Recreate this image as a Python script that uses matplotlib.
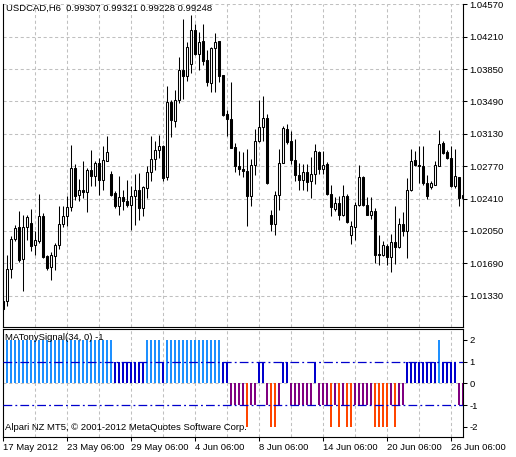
import numpy as np
import matplotlib.pyplot as plt

plt.rcParams['font.family'] = ['Liberation Sans', 'DejaVu Sans']
plt.rcParams['font.size'] = 6.8

# USDCAD H6 candles
opens = [1.01269, 1.01269, 1.01632, 1.01962, 1.02095, 1.01740, 1.02095, 1.02143, 1.01895, 1.01935,
         1.02220, 1.01769, 1.01651, 1.01776, 1.01891, 1.02132, 1.02213, 1.02317, 1.02750, 1.02446,
         1.02509, 1.02479, 1.02731, 1.02657, 1.02805, 1.02612, 1.02823, 1.02687, 1.02472, 1.02324,
         1.02428, 1.02384, 1.02343, 1.02435, 1.02509, 1.02306, 1.02528, 1.02701, 1.02853, 1.02953,
         1.02990, 1.02646, 1.03489, 1.03275, 1.03508, 1.03841, 1.03767, 1.03904, 1.04285, 1.04015,
         1.04163, 1.03952, 1.03700, 1.04082, 1.04163, 1.03786, 1.03353, 1.03294, 1.02983, 1.02775,
         1.02742, 1.02720, 1.02435, 1.02787, 1.03045, 1.03201, 1.03305, 1.02232, 1.02128, 1.02446,
         1.02805, 1.03183, 1.03045, 1.02842, 1.02676, 1.02612, 1.02706, 1.02601, 1.02687, 1.02928,
         1.02739, 1.02794, 1.02461, 1.02298, 1.02361, 1.02224, 1.02442, 1.02010, 1.02091, 1.02343,
         1.02646, 1.02343, 1.02232, 1.02268, 1.01799, 1.01788, 1.01887, 1.01762, 1.01929, 1.01873,
         1.02128, 1.02046, 1.02501, 1.02842, 1.02787, 1.02775, 1.02583, 1.02535, 1.02565, 1.02775,
         1.03027, 1.02923, 1.02861, 1.02546, 1.02650, 1.02417]
highs = [1.01310, 1.01788, 1.01991, 1.02121, 1.02276, 1.02232, 1.02232, 1.02295, 1.02054, 1.02461,
         1.02250, 1.01788, 1.01813, 1.01917, 1.02331, 1.02324, 1.02435, 1.03009, 1.02798, 1.02631,
         1.02823, 1.02750, 1.02953, 1.02831, 1.02861, 1.02997, 1.03108, 1.02720, 1.02498, 1.02664,
         1.02501, 1.02620, 1.02546, 1.02687, 1.02694, 1.02546, 1.02775, 1.03108, 1.03045, 1.03120,
         1.03009, 1.03656, 1.03508, 1.03619, 1.03982, 1.04407, 1.04149, 1.04451, 1.04352, 1.04260,
         1.04348, 1.04063, 1.04100, 1.04248, 1.04163, 1.03786, 1.03397, 1.03711, 1.03027, 1.02934,
         1.02928, 1.02961, 1.02853, 1.03183, 1.03508, 1.03545, 1.03353, 1.02287, 1.02498, 1.02964,
         1.03212, 1.03242, 1.03164, 1.03075, 1.02805, 1.02794, 1.02794, 1.02872, 1.03016, 1.02942,
         1.02934, 1.02817, 1.02565, 1.02424, 1.02435, 1.02565, 1.02461, 1.02157, 1.02373, 1.02787,
         1.02664, 1.02428, 1.02428, 1.02306, 1.02010, 1.01935, 1.01906, 1.02021, 1.02324, 1.02195,
         1.02257, 1.02639, 1.02961, 1.02934, 1.02990, 1.02990, 1.02676, 1.02601, 1.02823, 1.03175,
         1.03045, 1.02945, 1.02990, 1.02961, 1.02650, 1.02490]
lows = [1.01155, 1.01214, 1.01532, 1.01935, 1.01702, 1.01380, 1.01954, 1.01824, 1.01788, 1.01917,
        1.01751, 1.01621, 1.01510, 1.01621, 1.01851, 1.02095, 1.02109, 1.02268, 1.02398, 1.02379,
        1.02417, 1.02257, 1.02546, 1.02553, 1.02454, 1.02501, 1.02823, 1.02435, 1.02306, 1.02224,
        1.02279, 1.02317, 1.02065, 1.02113, 1.02168, 1.02213, 1.02417, 1.02601, 1.02723, 1.02861,
        1.02601, 1.02620, 1.03090, 1.03205, 1.03475, 1.03516, 1.03722, 1.03804, 1.04008, 1.03841,
        1.03897, 1.03663, 1.03600, 1.03600, 1.03711, 1.03323, 1.03108, 1.02972, 1.02706, 1.02676,
        1.02650, 1.02102, 1.02324, 1.02676, 1.03034, 1.03045, 1.02576, 1.02046, 1.02002, 1.02279,
        1.02805, 1.03020, 1.02794, 1.02601, 1.02509, 1.02509, 1.02498, 1.02417, 1.02572, 1.02687,
        1.02687, 1.02454, 1.02213, 1.02268, 1.02176, 1.02213, 1.02139, 1.01910, 1.01954, 1.02331,
        1.02324, 1.02224, 1.02187, 1.01695, 1.01669, 1.01769, 1.01669, 1.01596, 1.01677, 1.01862,
        1.01991, 1.01751, 1.02490, 1.02775, 1.02583, 1.02557, 1.02409, 1.02517, 1.02565, 1.02775,
        1.02909, 1.02850, 1.02539, 1.02528, 1.02324, 1.02361]
closes = [1.01185, 1.01632, 1.01965, 1.02084, 1.01724, 1.02095, 1.02206, 1.01884, 1.01954, 1.02220,
          1.01758, 1.01640, 1.01780, 1.01899, 1.02132, 1.02213, 1.02317, 1.02750, 1.02442, 1.02509,
          1.02479, 1.02731, 1.02657, 1.02805, 1.02612, 1.02842, 1.02928, 1.02454, 1.02324, 1.02428,
          1.02379, 1.02335, 1.02442, 1.02509, 1.02306, 1.02535, 1.02706, 1.02853, 1.02953, 1.02990,
          1.02639, 1.03483, 1.03278, 1.03508, 1.03841, 1.03767, 1.04093, 1.04285, 1.04015, 1.04155,
          1.03944, 1.03711, 1.04082, 1.04155, 1.03778, 1.03342, 1.03294, 1.02972, 1.02768, 1.02739,
          1.02712, 1.02435, 1.02783, 1.03053, 1.03205, 1.03305, 1.02583, 1.02128, 1.02454, 1.02805,
          1.03194, 1.03034, 1.02842, 1.02668, 1.02612, 1.02706, 1.02590, 1.02687, 1.02942, 1.02739,
          1.02787, 1.02461, 1.02313, 1.02361, 1.02224, 1.02442, 1.02146, 1.02102, 1.02343, 1.02646,
          1.02343, 1.02232, 1.02268, 1.01780, 1.01780, 1.01899, 1.01762, 1.01929, 1.01873, 1.02128,
          1.02046, 1.02509, 1.02831, 1.02787, 1.02775, 1.02583, 1.02435, 1.02583, 1.02787, 1.03016,
          1.02916, 1.02861, 1.02546, 1.02657, 1.02417, 1.02446]

# MATonySignal(34, 0) histogram values
signal = [2, 2, 2, 2, 2, 2, 2, 2, 2, 2, 2, 2, 2, 2, 2, 2, 2, 2, 2, 2,
          2, 2, 2, 2, 2, 2, 2, 2, 1, 1, 1, 1, 1, 1, 1, 1, 2, 2, 2, 2,
          1, 2, 2, 2, 2, 2, 2, 2, 2, 2, 2, 2, 2, 2, 2, 1, 1, -1, -1, -1,
          -1, -2, -1, -1, 1, 1, -1, -2, -2, -1, 1, 1, -1, -1, -1, -1, -1, -1, 1, -1,
          -1, -1, -2, -1, -2, -1, -2, -2, -1, -1, -1, -1, -1, -2, -2, -2, -2, -1, -2, -1,
          -1, 1, 1, 1, 1, 1, 1, 1, 1, 2, 1, 1, 1, 1, -1, -1]
sig_colors = {2: '#1E90FF', 1: '#0000CD', -1: '#800080', -2: '#FF4500'}

price_ticks = [1.01330, 1.01690, 1.02050, 1.02410, 1.02770, 1.03130, 1.03490, 1.03850, 1.04210, 1.04570]
sig_ticks = [2, 1, 0, -1, -2]
date_pos = [0, 16, 32, 48, 64, 80, 96, 112]
date_labels = ['17 May 2012', '23 May 06:00', '29 May 06:00', '4 Jun 06:00',
               '8 Jun 06:00', '14 Jun 06:00', '20 Jun 06:00', '26 Jun 06:00']

W, H = 516, 457
fig = plt.figure(figsize=(W / 100, H / 100), dpi=100)
ax1 = fig.add_axes([3 / W, 1 - 327 / H, 460 / W, 323 / H])
ax2 = fig.add_axes([3 / W, 1 - 437 / H, 460 / W, 108 / H])

x = np.arange(len(opens))
o = np.array(opens)
c = np.array(closes)
grid_kw = dict(color='#C0C0C0', lw=0.75, ls=(0, (3, 2.5)), zorder=0)

# candles
ax1.vlines(x, lows, highs, color='black', lw=0.75, zorder=2)
ax1.bar(x, np.abs(c - o), bottom=np.minimum(o, c), width=0.5,
        color=np.where(c >= o, 'white', 'black'), edgecolor='black', linewidth=0.75, zorder=3)
ax1.set_xlim(0, 115)
ax1.set_ylim(1.00982, 1.04573)
ax1.yaxis.tick_right()
ax1.set_yticks(price_ticks)
ax1.set_yticklabels([f'{p:.5f}' for p in price_ticks])
ax1.set_xticks([])
ax1.spines['top'].set_visible(False)
for p in price_ticks:
    ax1.axhline(p, **grid_kw)

# indicator
ax2.bar(x, signal, width=0.5, color=[sig_colors[v] for v in signal], zorder=2)
for lv in (1, -1):
    ax2.axhline(lv, color='#0000CD', lw=0.9, ls=(0, (7, 2.5, 1.5, 2.5)), zorder=3)
ax2.axhline(0, **grid_kw)
ax2.set_xlim(0, 115)
ax2.set_ylim(-2.46, 2.49)
ax2.yaxis.tick_right()
ax2.set_yticks(sig_ticks)
ax2.set_yticklabels([str(v) for v in sig_ticks])
ax2.set_xticks(date_pos)
ax2.set_xticklabels(date_labels, ha='left')

for ax in (ax1, ax2):
    for g in range(8, 116, 8):
        ax.axvline(g, **grid_kw)
    for s in ax.spines.values():
        s.set_linewidth(0.8)
        s.set_color('black')
    ax.tick_params(direction='out', length=3, width=0.75, pad=1.5, colors='black')

fig.text(6 / W, 1 - 4 / H, 'USDCAD,H6  0.99307 0.99321 0.99228 0.99248', ha='left', va='top')
fig.text(5 / W, 1 - 333 / H, 'MATonySignal(34, 0) -1', ha='left', va='top')
fig.text(5 / W, 1 - 423 / H, 'Alpari NZ MT5, \u00a9 2001-2012 MetaQuotes Software Corp.', ha='left', va='top')

fig.savefig('out.png', dpi=100)
